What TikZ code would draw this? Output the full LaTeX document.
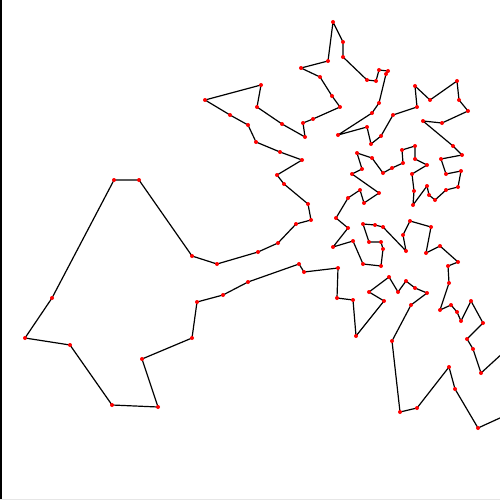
\documentclass[tikz,border=0pt]{standalone}
\usepackage{xcolor}
\usepackage{tikz}
\usetikzlibrary{calc}
\definecolor{tourInk}{HTML}{000000}
\definecolor{tourCity}{HTML}{FF0000}
\definecolor{tourRule}{HTML}{E6E6E6}
\tikzset{
  tourline/.style={draw=tourInk, line width=1.2pt, line join=round},
  city/.style={circle, fill=tourCity, inner sep=0pt, minimum size=4pt},
  leftrule/.style={draw=black, line width=1.6pt},
  baserule/.style={draw=tourRule, line width=1pt}
}
\begin{document}
\begin{tikzpicture}[x=1pt, y=-1pt]
  \useasboundingbox (0,0) rectangle (500,500);
  \clip (0,0) rectangle (500,500);
  % cities along the tour
  \foreach \px/\py [count=\i] in {
    333/22, 343/42, 343/57, 367/80, 376/81, 379/70, 388/71, 386/74, 379/103, 372/113,
    338/135, 367/127, 371/144, 381/136, 393/115, 417/107, 415/86, 430/100, 457/81, 459/100,
    468/111, 442/123, 423/121, 453/146, 462/155, 441/159, 446/174, 461/171, 458/187, 446/190,
    435/200, 429/195, 427/186, 413/205, 414/191, 412/174, 427/165, 415/159, 415/146, 402/150,
    403/163, 392/168, 383/173, 372/158, 357/153, 362/169, 352/174, 379/193, 364/203, 360/190,
    348/198, 336/218, 348/228, 333/247, 353/241, 363/264, 381/266, 383/249, 381/242, 369/242,
    363/224, 375/225, 383/227, 406/251, 403/235, 410/221, 431/227, 426/253, 440/246, 458/262,
    448/266, 449/283, 440/310, 451/305, 457/312, 461/321, 471/301, 483/323, 467/339, 473/349,
    481/373, 516/341, 524/407, 478/428, 455/389, 449/367, 417/408, 400/412, 392/341, 411/305,
    427/293, 415/288, 406/281, 398/292, 389/277, 369/292, 384/301, 356/336, 353/300, 337/298,
    338/268, 304/272, 299/264, 248/282, 223/295, 197/302, 192/338, 142/359, 158/407, 112/405,
    70/345, 25/338, 52/298, 114/180, 139/180, 192/256, 217/264, 258/252, 278/243, 296/224,
    311/220, 308/204, 284/184, 277/175, 302/160, 280/152, 256/142, 248/125, 230/115, 205/100,
    261/85, 257/107, 282/124, 305/137, 303/123, 313/119, 340/107, 332/96, 320/77, 301/68,
    328/61}
    \coordinate (c\i) at (\px,\py);
  \draw[tourline] (c1) \foreach \i in {2,...,141}{-- (c\i)} -- cycle;
  \foreach \i in {1,...,141}{\node[city] (d\i) at (c\i) {};}
  % frame
  \draw[leftrule] (0.8,0) -- (0.8,500);
  \draw[baserule] (0,499.5) -- (500,499.5);
\end{tikzpicture}
\end{document}
